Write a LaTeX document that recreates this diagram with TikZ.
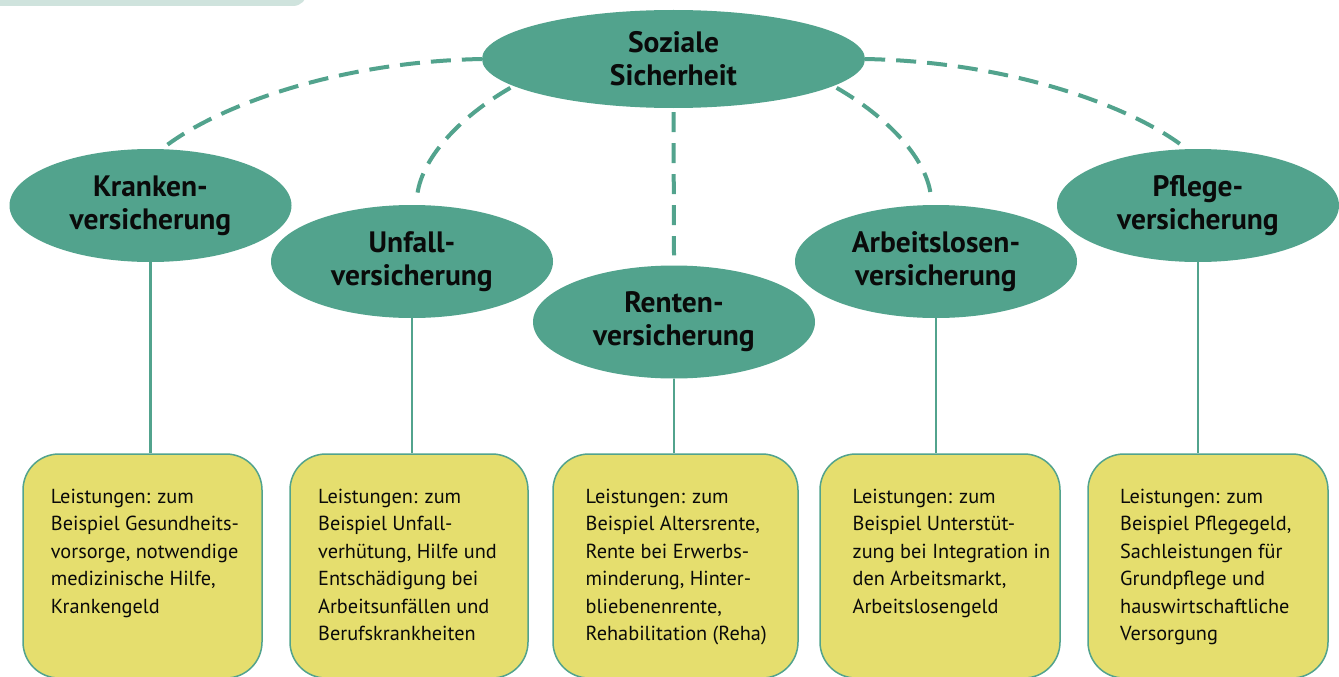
\documentclass[tikz,border=0pt]{standalone}
\usepackage{fontspec}
\setmainfont{PT Sans}
\usetikzlibrary{shapes.geometric,calc}
\definecolor{teal1}{HTML}{52A38D}
\definecolor{yel}{HTML}{E5DE6E}
\definecolor{barc}{HTML}{CFE3DD}
\definecolor{ink}{HTML}{0A0A0A}
\begin{document}
\begin{tikzpicture}[x=1pt,y=-1pt,
  ell/.style={ellipse, fill=teal1, inner sep=0pt, minimum width=282pt, minimum height=113pt, align=center, font=\bfseries\fontsize{29.5}{33}\selectfont, text=ink},
  topell/.style={ell, minimum width=383pt, minimum height=98pt},
  lbox/.style={rectangle, rounded corners=36pt, fill=yel, draw=teal1, line width=1.5pt, inner sep=0pt, minimum height=224pt},
  ltext/.style={anchor=north west, inner sep=0pt, align=left, font=\fontsize{20.3}{27.5}\selectfont, text=ink},
  dashcon/.style={draw=teal1, line width=4pt, dash pattern=on 20pt off 11pt},
  solidcon/.style={draw=teal1, line width=2.5pt}]
\useasboundingbox (0,0) rectangle (1339,677);
\clip (0,0) rectangle (1339,677);
\fill[white] (0,0) rectangle (1339,677);
% top-left bar
\fill[barc, rounded corners=14pt] (-30,-40) rectangle (307,6);
% ellipses
\node[topell] (top) at (673.5,59) {Soziale\\Sicherheit};
\node[ell] (k) at (150.5,205.5) {Kranken-\\versicherung};
\node[ell] (u) at (412,261.5) {Unfall-\\versicherung};
\node[ell] (r) at (674,322) {Renten-\\versicherung};
\node[ell] (a) at (936,261.5) {Arbeitslosen-\\versicherung};
\node[ell] (p) at (1198,205.5) {Pflege-\\versicherung};
% boxes
\node[lbox, minimum width=239pt] (b1) at (142.5,566) {};
\node[lbox, minimum width=238pt] (b2) at (409,566) {};
\node[lbox, minimum width=245pt] (b3) at (675.5,566) {};
\node[lbox, minimum width=240pt] (b4) at (940,566) {};
\node[lbox, minimum width=240pt] (b5) at (1208,566) {};
% box texts
\node[ltext] (t1) at (50.7,483.75) {\strut Leistungen: zum\\Beispiel Gesundheits-\\vorsorge, notwendige\\medizinische Hilfe,\\Krankengeld};
\node[ltext] (t2) at (318,483.75) {\strut Leistungen: zum\\Beispiel Unfall-\\verhütung, Hilfe und\\Entschädigung bei\\Arbeitsunfällen und\\Berufskrankheiten};
\node[ltext] (t3) at (585.5,483.75) {\strut Leistungen: zum\\Beispiel Altersrente,\\Rente bei Erwerbs-\\minderung, Hinter-\\bliebenenrente,\\Rehabilitation (Reha)};
\node[ltext] (t4) at (852.5,483.75) {\strut Leistungen: zum\\Beispiel Unterstüt-\\zung bei Integration in\\den Arbeitsmarkt,\\Arbeitslosengeld};
\node[ltext] (t5) at (1120,483.75) {\strut Leistungen: zum\\Beispiel Pflegegeld,\\Sachleistungen für\\Grundpflege und\\hauswirtschaftliche\\Versorgung};
% solid connectors
\draw[solidcon] (k.south) -- (k.south |- b1.north);
\draw[solidcon] (u.south) -- (u.south |- b2.north);
\draw[solidcon] (r.south) -- (r.south |- b3.north);
\draw[solidcon] (a.south) -- (a.south |- b4.north);
\draw[solidcon] (p.south) -- (p.south |- b5.north);
% dashed connectors
\coordinate (kend) at ($(k.75)+(0,-3)$);
\coordinate (uend) at ($(u.85)+(0,-7)$);
\coordinate (rend) at ($(r.north)+(0,-10)$);
\coordinate (aend) at ($(a.95)+(0,-7)$);
\coordinate (pend) at ($(p.105)+(0,-3)$);
\coordinate (tl) at ($(top.189)+(0,3)$);
\coordinate (tr) at ($(top.351)+(0,3)$);
\coordinate (tb) at ($(top.south)+(0,4)$);
\draw[dashcon] (top.west) .. controls +(-150,3) and +(50,-38) .. (kend);
\draw[dashcon] (tl) .. controls +(-52,30) and +(3,-38) .. (uend);
\draw[dashcon] (tb) -- (rend);
\draw[dashcon] (tr) .. controls +(52,30) and +(-3,-38) .. (aend);
\draw[dashcon] (top.east) .. controls +(150,3) and +(-50,-38) .. (pend);
\end{tikzpicture}
\end{document}
